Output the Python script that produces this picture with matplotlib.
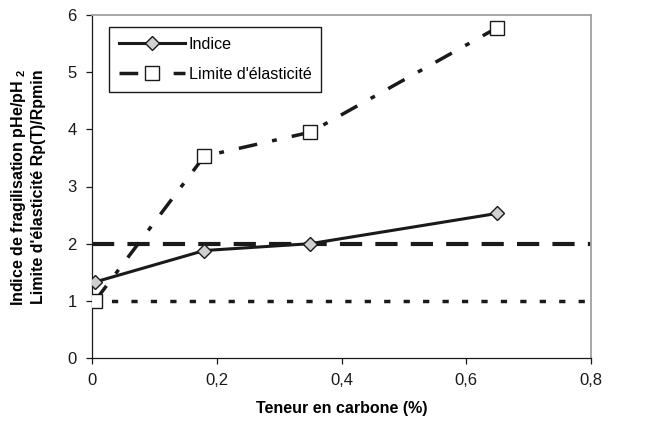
import matplotlib
matplotlib.use("Agg")
import matplotlib.pyplot as plt

plt.rcParams['font.family'] = ['Liberation Sans', 'DejaVu Sans']
plt.rcParams['mathtext.fontset'] = 'custom'
plt.rcParams['mathtext.rm'] = 'Liberation Sans'
plt.rcParams['mathtext.bf'] = 'Liberation Sans:bold'
plt.rcParams['lines.scale_dashes'] = False

# Data
carbone = [0.005, 0.18, 0.35, 0.65]
indice = [1.33, 1.88, 2.0, 2.53]
limite = [1.0, 3.53, 3.95, 5.78]
seuil_indice = 2.0
seuil_limite = 1.0
xticks = [0, 0.2, 0.4, 0.6, 0.8]
xticklabels = ["0", "0,2", "0,4", "0,6", "0,8"]
yticks = [0, 1, 2, 3, 4, 5, 6]
labels = ["Indice", "Limite d'élasticité"]

W, H = 647, 430
fig = plt.figure(figsize=(W / 100, H / 100), dpi=100)
ax = fig.add_axes([92 / W, 1 - 358 / H, (591 - 92) / W, (358 - 15) / H])

ax.axhline(seuil_indice, color='#1a1a1a', lw=3.0, dashes=(16, 9.5), zorder=2)
ax.axhline(seuil_limite, color='#1a1a1a', lw=2.5, dashes=(4.5, 9.5), zorder=2)

ax.plot(carbone, indice, color='#1a1a1a', lw=2.2, marker='D', markersize=7.6,
        markerfacecolor='#d0d0d0', markeredgecolor='#1a1a1a', markeredgewidth=1.0,
        label=labels[0], zorder=4)
ax.plot(carbone, limite, color='#1a1a1a', lw=2.5, dashes=(13.5, 11, 3.5, 11),
        marker='s', markersize=10.5, markerfacecolor='white',
        markeredgecolor='#1a1a1a', markeredgewidth=1.0,
        label=labels[1], zorder=3)

ax.set_xlim(0, 0.8)
ax.set_ylim(0, 6)
ax.set_xticks(xticks)
ax.set_xticklabels(xticklabels)
ax.set_yticks(yticks)
ax.tick_params(axis='both', direction='out', length=4, width=0.9, labelsize=12,
               colors='#1a1a1a', pad=7)
ax.tick_params(axis='x', pad=7)

for s in ['left', 'bottom']:
    ax.spines[s].set_color('#1a1a1a')
    ax.spines[s].set_linewidth(0.9)
for s in ['top', 'right']:
    ax.spines[s].set_color('#a0a0a0')
    ax.spines[s].set_linewidth(1.3)

ax.set_xlabel("Teneur en carbone (%)", fontsize=11.5, fontweight='bold', labelpad=9)

fig.text(28 / W, 1 - 187 / H,
         "Indice de fragilisation pHe/pH $_\\mathbf{2}$\nLimite d'élasticité Rp(T)/Rpmin",
         rotation=90, ha='center', va='center', multialignment='center',
         fontsize=11.5, fontweight='bold', linespacing=1.25)

leg = ax.legend(loc='upper left', bbox_to_anchor=(109 / W, 1 - 27 / H),
                bbox_transform=fig.transFigure, borderaxespad=0,
                fontsize=11.6, handlelength=4.1, handletextpad=0.25,
                labelspacing=0.95, borderpad=0.6, fancybox=False,
                framealpha=1, edgecolor='#1a1a1a')
leg.get_frame().set_linewidth(1.0)

fig.savefig("out.png", dpi=100)
